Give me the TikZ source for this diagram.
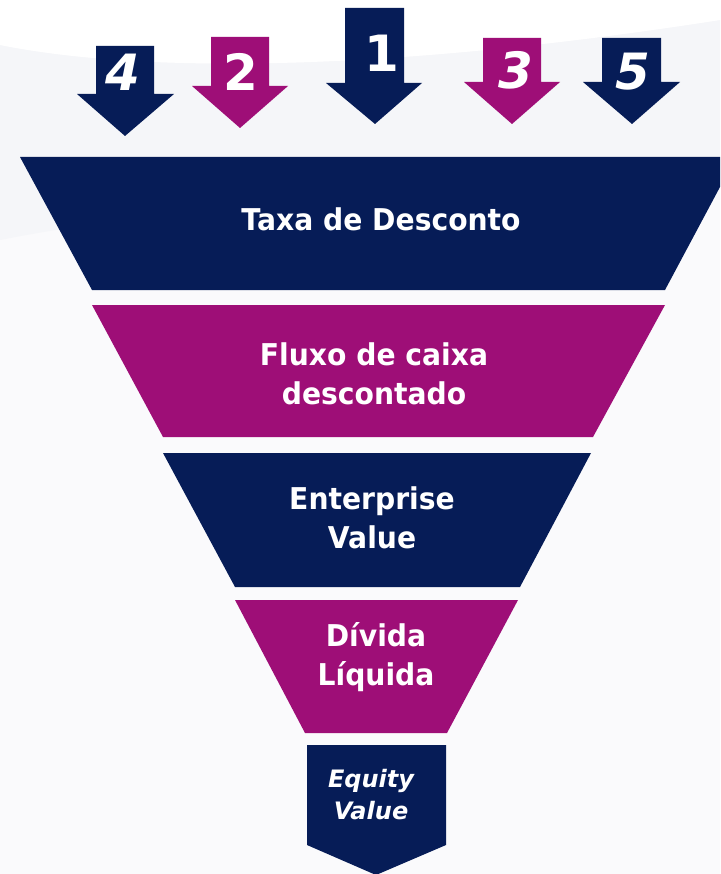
\documentclass[tikz,border=0pt]{standalone}
\usepackage{fontspec}
\setmainfont{DejaVu Sans}
\newfontfamily\lblfont{DejaVu Sans}[FakeStretch=0.94]
\definecolor{navy}{RGB}{6,28,87}
\definecolor{magen}{RGB}{158,14,119}
\definecolor{bgg}{RGB}{245,246,249}
\definecolor{bgl}{RGB}{250,250,252}
\begin{document}
\begin{tikzpicture}[x=1pt,y=-1pt,
  lbl/.style={text=white,font=\lblfont\bfseries\fontsize{30}{38.5}\selectfont,align=center},
  num/.style={text=white,font=\bfseries\fontsize{50}{50}\selectfont},
  numit/.style={text=white,font=\bfseries\itshape\fontsize{50}{50}\selectfont}]
\useasboundingbox (0,0) rectangle (720,874);
\clip (0,0) rectangle (720,874);
% background
\fill[bgl] (0,0) rectangle (720,874);
\fill[bgg] (0,45) .. controls (150,75) and (400,70) .. (720,20) -- (720,200) .. controls (500,190) and (200,200) .. (0,240) -- cycle;
\fill[white] (0,0) -- (0,45) .. controls (150,75) and (400,70) .. (720,20) -- (720,0) -- cycle;
% top arrows
\fill[navy]  (345,8)  -- (404,8)  -- (404,83) -- (422,83) -- (375,124) -- (326,83) -- (345,83) -- cycle;
\fill[navy]  (96,46)  -- (154,46) -- (154,94) -- (174,94) -- (125,136) -- (77,94)  -- (96,94)  -- cycle;
\fill[magen] (211,37) -- (269,37) -- (269,86) -- (288,86) -- (240,128) -- (192,86) -- (211,86) -- cycle;
\fill[magen] (483,38) -- (541,38) -- (541,82) -- (560,82) -- (512,124) -- (464,82) -- (483,82) -- cycle;
\fill[navy]  (602,38) -- (661,38) -- (661,82) -- (680,82) -- (632,124) -- (583,82) -- (602,82) -- cycle;
\node[numit] (n4) at (123,72) {4};
\node[num]   (n2) at (241,72) {2};
\node[num]   (n1) at (382,53) {1};
\node[numit] (n3) at (516,70) {3};
\node[numit] (n5) at (633,72) {5};
% funnel layers
\fill[navy]  (20,157)  -- (736,157) -- (665,290) -- (92,290)  -- cycle;
\fill[magen] (92,305)  -- (665,305) -- (593,437) -- (163,437) -- cycle;
\fill[navy]  (163,453) -- (591,453) -- (520,587) -- (235,587) -- cycle;
\fill[magen] (235,600) -- (518,600) -- (447,733) -- (305,733) -- cycle;
\fill[navy]  (307,745) -- (446,745) -- (446,845) -- (376,875) -- (307,845) -- cycle;
\node[lbl] (t1) at (381,219) {Taxa de Desconto};
\node[lbl] (t2) at (374,374) {Fluxo de caixa\\descontado};
\node[lbl] (t3) at (372,518) {Enterprise\\Value};
\node[lbl] (t4) at (376,657) {Dívida\\Líquida};
\node[text=white,font=\bfseries\itshape\fontsize{24}{32}\selectfont,align=center] (t5) at (371,795) {Equity\\Value};
\end{tikzpicture}
\end{document}
